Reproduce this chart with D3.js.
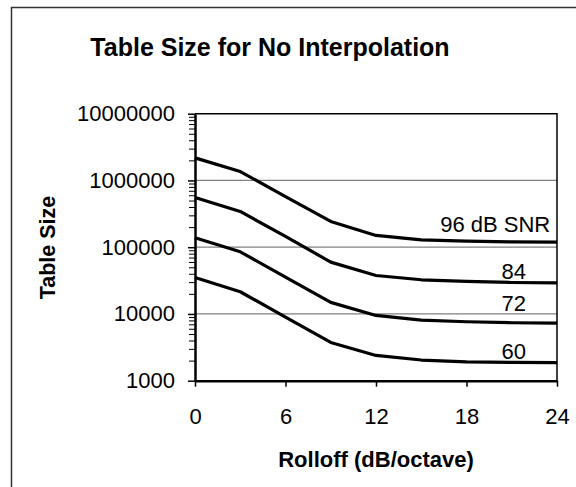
<!DOCTYPE html>
<html>
<head>
<meta charset="utf-8">
<script src="https://cdn.jsdelivr.net/npm/d3@7"></script>
<style>
  html, body { margin: 0; padding: 0; background: #fff; }
  svg { display: block; }
  text { font-family: "Liberation Sans", Arial, sans-serif; fill: #000; }
</style>
</head>
<body>
<svg id="chart" width="576" height="487"></svg>
<script>
// ---- data ----
const rolloff = [0, 3, 6, 9, 12, 15, 18, 21, 24];
const snr96 = [2180000, 1360000, 574000, 243000, 150000, 129000, 123000, 120000, 119000];
const snr84 = [555000, 343000, 145000, 59800, 37700, 32500, 30700, 29600, 29300];
const snr72 = [139000, 85400, 35700, 14900, 9500, 8100, 7640, 7380, 7300];
const snr60 = [35200, 21500, 8980, 3740, 2390, 2040, 1920, 1880, 1860];
const seriesLabels = ["96 dB SNR", "84", "72", "60"];
const xTicks = [0, 6, 12, 18, 24];
const yTicks = [1000, 10000, 100000, 1000000, 10000000];
const title = "Table Size for No Interpolation";
const xTitle = "Rolloff (dB/octave)";
const yTitle = "Table Size";

const series = [snr96, snr84, snr72, snr60];

// ---- layout ----
const svg = d3.select("#chart");
const L = 195, R = 557, T = 113.7, B = 380.7;

const x = d3.scaleLinear().domain([0, 24]).range([L, R]);
const y = d3.scaleLog().domain([1000, 10000000]).range([B, T]);

// outer frame
svg.append("rect")
  .attr("x", 11.5).attr("y", 7.5).attr("width", 620).attr("height", 520)
  .attr("fill", "none").attr("stroke", "#333").attr("stroke-width", 1.5);

// title
svg.append("text")
  .attr("x", 270).attr("y", 56)
  .attr("text-anchor", "middle")
  .attr("font-size", 25).attr("font-weight", "bold")
  .text(title);

// gridlines
svg.append("g").selectAll("line")
  .data(yTicks.slice(1, -1))
  .join("line")
  .attr("x1", L).attr("x2", R)
  .attr("y1", d => y(d)).attr("y2", d => y(d))
  .attr("stroke", "#808080").attr("stroke-width", 1.2);

// plot border top & right
svg.append("path")
  .attr("d", `M${L},${T}H${R}V${B}`)
  .attr("fill", "none").attr("stroke", "#000").attr("stroke-width", 1.5);

// minor ticks
const minors = [];
for (let e = 3; e < 7; e++) for (let m = 2; m <= 9; m++) minors.push(m * Math.pow(10, e));
const yMinor = svg.append("g").attr("transform", `translate(${L},0)`)
  .call(d3.axisLeft(y).tickValues(minors).tickFormat("").tickSize(6).tickSizeOuter(0));
yMinor.select(".domain").remove();
yMinor.selectAll("line").attr("stroke", "#000").attr("stroke-width", 1);

// y axis major
const yAxis = svg.append("g").attr("transform", `translate(${L},0)`)
  .call(d3.axisLeft(y).tickValues(yTicks).tickFormat(d3.format("d")).tickSize(7).tickSizeOuter(0).tickPadding(13));
yAxis.select(".domain").attr("stroke", "#000").attr("stroke-width", 2.5);
yAxis.selectAll("line").attr("stroke", "#000").attr("stroke-width", 1.5);
yAxis.selectAll("text").attr("font-size", 22).attr("font-family", "Liberation Sans, Arial, sans-serif").attr("fill", "#000");

// x axis
const xAxis = svg.append("g").attr("transform", `translate(0,${B})`)
  .call(d3.axisBottom(x).tickValues(xTicks).tickSize(6).tickSizeOuter(0).tickPadding(22));
xAxis.select(".domain").attr("stroke", "#000").attr("stroke-width", 2.5);
xAxis.selectAll("line").attr("stroke", "#000").attr("stroke-width", 1.5);
xAxis.selectAll("text").attr("font-size", 22).attr("font-family", "Liberation Sans, Arial, sans-serif").attr("fill", "#000");

// lines
const line = d3.line().x((d, i) => x(rolloff[i])).y(d => y(d));
svg.append("g").selectAll("path")
  .data(series)
  .join("path")
  .attr("d", d => line(d))
  .attr("fill", "none").attr("stroke", "#000").attr("stroke-width", 3.2)
  .attr("stroke-linejoin", "round");

// series labels
const labelPos = [
  { xv: 23.55, dy: -10.6 },
  { xv: 21.95, dy: -4 },
  { xv: 21.95, dy: -11.6 },
  { xv: 21.95, dy: -4 }
];
svg.append("g").selectAll("text")
  .data(series)
  .join("text")
  .attr("x", (d, i) => x(labelPos[i].xv))
  .attr("y", (d, i) => y(d[d.length - 1]) + labelPos[i].dy)
  .attr("text-anchor", "end")
  .attr("font-size", 22)
  .text((d, i) => seriesLabels[i]);

// axis titles
svg.append("text")
  .attr("x", 376).attr("y", 467)
  .attr("text-anchor", "middle")
  .attr("font-size", 22).attr("font-weight", "bold")
  .text(xTitle);

svg.append("text")
  .attr("transform", "translate(55,247.5) rotate(-90)")
  .attr("text-anchor", "middle")
  .attr("font-size", 21.5).attr("font-weight", "bold")
  .text(yTitle);
</script>
</body>
</html>
